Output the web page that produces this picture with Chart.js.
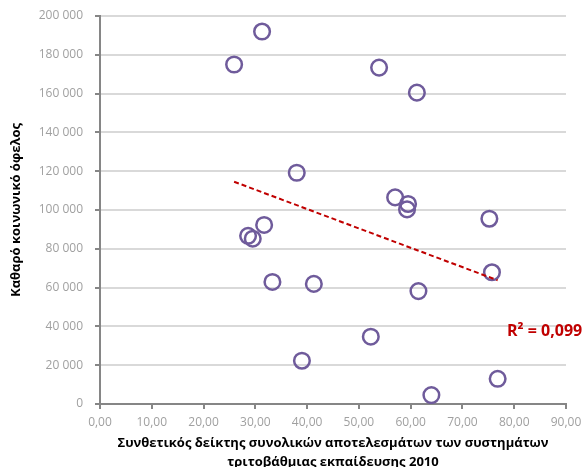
<!DOCTYPE html>
<html>
<head>
<meta charset="utf-8">
<script src="https://cdn.jsdelivr.net/npm/chart.js@4/dist/chart.umd.min.js"></script>
<style>
  html, body { margin: 0; padding: 0; background: #fff; }
  #wrap { width: 584px; height: 467px; }
</style>
</head>
<body>
<div id="wrap"><canvas id="scatterChart" width="584" height="467"></canvas></div>
<script>
// Δεδομένα (εκτίμηση από το γράφημα)
const indexValues = [25.9, 31.3, 53.9, 61.2, 38.0, 57.0, 59.5, 59.3, 75.2, 31.7,
                     28.6, 29.5, 33.3, 75.7, 41.3, 61.5, 52.3, 39.0, 64.0, 76.8];
const netBenefit = [175000, 192000, 173400, 160500, 119200, 106500, 103100, 100300, 95500, 92300,
                    86700, 85200, 62900, 67900, 61900, 58200, 34700, 22300, 4600, 13000];
const rSquaredLabel = 'R² = 0,099';
const xTitle = ['Συνθετικός δείκτης συνολικών αποτελεσμάτων των συστημάτων',
                'τριτοβάθμιας εκπαίδευσης 2010'];
const yTitle = 'Καθαρό κοινωνικό όφελος';

const points = indexValues.map((x, i) => ({ x: x, y: netBenefit[i] }));

// γραμμική τάση (ελάχιστα τετράγωνα)
function linearTrend(xs, ys) {
  const n = xs.length;
  const mx = xs.reduce((a, b) => a + b, 0) / n;
  const my = ys.reduce((a, b) => a + b, 0) / n;
  let sxy = 0, sxx = 0;
  xs.forEach((x, i) => { sxy += (x - mx) * (ys[i] - my); sxx += (x - mx) * (x - mx); });
  const slope = sxy / sxx;
  const xmin = Math.min(...xs), xmax = Math.max(...xs);
  return [
    { x: xmin, y: my + slope * (xmin - mx) },
    { x: xmax, y: my + slope * (xmax - mx) }
  ];
}
const trendPoints = linearTrend(indexValues, netBenefit);

const FONT = "'Open Sans', 'DejaVu Sans', sans-serif";

// R² ετικέτα
const r2Plugin = {
  id: 'r2Label',
  afterDraw(chart) {
    const ctx = chart.ctx;
    ctx.save();
    ctx.font = 'bold 16px ' + FONT;
    ctx.fillStyle = '#c00000';
    ctx.textAlign = 'left';
    ctx.textBaseline = 'middle';
    ctx.fillText(rSquaredLabel, 507, 331);
    ctx.restore();
  }
};

new Chart(document.getElementById('scatterChart').getContext('2d'), {
  type: 'scatter',
  data: {
    datasets: [
      {
        label: 'trend',
        data: trendPoints,
        showLine: true,
        borderColor: '#c00000',
        borderWidth: 2,
        borderDash: [5, 3],
        pointRadius: 0,
        fill: false
      },
      {
        label: 'points',
        data: points,
        pointRadius: 7.8,
        pointBorderWidth: 2.5,
        pointBorderColor: '#6f5b9b',
        pointBackgroundColor: 'rgba(0,0,0,0)'
      }
    ]
  },
  options: {
    responsive: false,
    animation: false,
    layout: { padding: { top: 16, right: 18, left: 0, bottom: 0 } },
    plugins: {
      legend: { display: false },
      tooltip: { enabled: false }
    },
    scales: {
      x: {
        type: 'linear',
        min: 0,
        max: 90,
        ticks: {
          stepSize: 10,
          color: '#a0a0a0',
          font: { family: FONT, size: 12 },
          padding: 6,
          callback: v => v.toFixed(2).replace('.', ',')
        },
        grid: { drawOnChartArea: false, color: '#868686', tickLength: 5, lineWidth: 2 },
        border: { color: '#868686', width: 2 },
        title: {
          display: true,
          text: xTitle,
          color: '#000',
          font: { family: FONT, size: 13, weight: 'bold', lineHeight: 1.4 },
          padding: { top: 2, bottom: -4 }
        },
        afterFit: s => { s.height = 63; s.paddingRight = 0; s.paddingLeft = 0; }
      },
      y: {
        min: 0,
        max: 200000,
        ticks: {
          stepSize: 20000,
          color: '#a0a0a0',
          font: { family: FONT, size: 12 },
          padding: 12,
          callback: v => String(v).replace(/\B(?=(\d{3})+(?!\d))/g, ' ')
        },
        grid: { color: '#d9d9d9', lineWidth: 2, tickColor: '#868686', tickLength: 5 },
        border: { color: '#868686', width: 2 },
        title: {
          display: true,
          text: yTitle,
          color: '#000',
          font: { family: FONT, size: 13, weight: 'bold' },
          padding: { top: 8, bottom: 10 }
        },
        afterFit: s => { s.width = 100; s.paddingTop = 0; s.paddingBottom = 0; }
      }
    }
  },
  plugins: [r2Plugin]
});
</script>
</body>
</html>
